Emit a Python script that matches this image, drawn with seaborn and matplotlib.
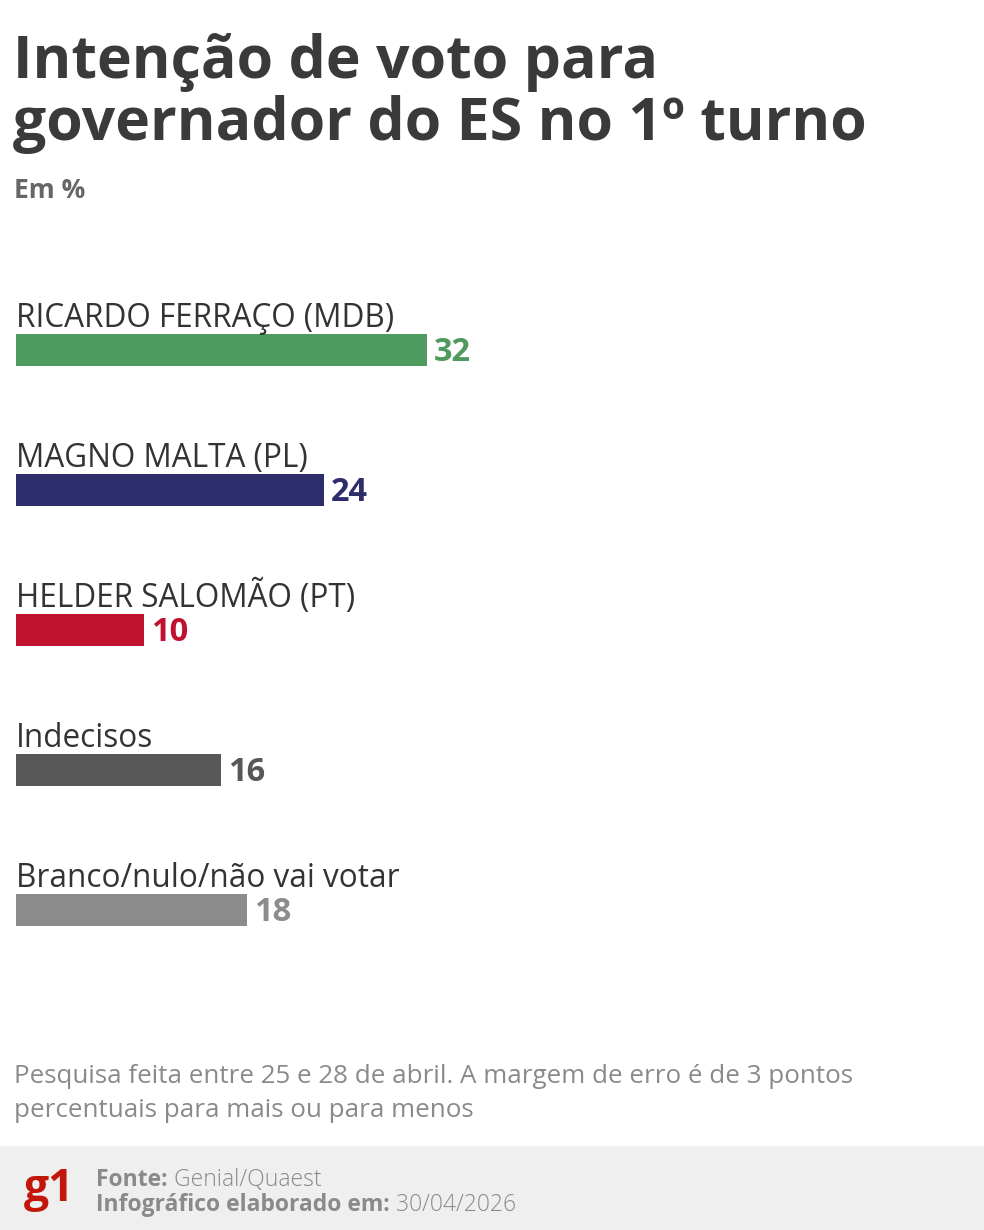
import matplotlib
matplotlib.use("Agg")
import matplotlib.pyplot as plt
import seaborn as sns
import pandas as pd
from matplotlib.patches import Rectangle

# data
candidates = ["RICARDO FERRAÇO (MDB)", "MAGNO MALTA (PL)", "HELDER SALOMÃO (PT)",
              "Indecisos", "Branco/nulo/não vai votar"]
votes = [32, 24, 10, 16, 18]
colors = ["#4f9a5f", "#2d2d6b", "#c0122f", "#575757", "#8c8c8c"]

title = "Intenção de voto para\ngovernador do ES no 1º turno"
subtitle = "Em %"
note = "Pesquisa feita entre 25 e 28 de abril. A margem de erro é de 3 pontos\npercentuais para mais ou para menos"

sns.set_theme(style="white")
plt.rcParams["font.family"] = ["Open Sans", "DejaVu Sans"]

W, H = 984, 1230
fig = plt.figure(figsize=(W / 100, H / 100), dpi=100)
fig.patch.set_facecolor("white")

def fx(px):
    return px / W

def fy(py):
    return 1 - py / H

# bars axis: x 0..32 spans px 16..427, categories 140 px apart
ax = fig.add_axes([fx(16), fy(980), 411 / W, 700 / H])
df = pd.DataFrame({"nome": candidates, "voto": votes})
sns.barplot(data=df, x="voto", y="nome", hue="nome", palette=colors,
            orient="h", width=32 / 140, legend=False, ax=ax, saturation=1,
            linewidth=0)
ax.set_xlim(0, 32)
ax.set_ylim(4.5, -0.5)
ax.axis("off")

for i, (name, v, c) in enumerate(zip(candidates, votes, colors)):
    ax.text(0, i - 0.114 - 0.052, name, ha="left", va="baseline",
            fontsize=22.7, color="#333333")
    ax.text(v + 0.5, i + 0.08, str(v), ha="left", va="baseline",
            fontsize=23.5, fontweight="bold", color=c)

title_lines = title.split("\n")
fig.text(fx(13), fy(78), title_lines[0], fontsize=42.5, fontweight="bold",
         color="#3a3a3a", va="baseline", ha="left")
fig.text(fx(13), fy(140), title_lines[1], fontsize=42.5, fontweight="bold",
         color="#3a3a3a", va="baseline", ha="left")
fig.text(fx(14), fy(198), subtitle, fontsize=19, fontweight="bold",
         color="#666666", va="baseline", ha="left")

note_lines = note.split("\n")
fig.text(fx(14), fy(1083), note_lines[0], fontsize=18.7, color="#8a8a8a",
         va="baseline", ha="left")
fig.text(fx(14), fy(1117), note_lines[1], fontsize=18.7, color="#8a8a8a",
         va="baseline", ha="left")

# footer band
fig.patches.append(Rectangle((0, 0), 1, 84 / H, transform=fig.transFigure,
                             facecolor="#efefef", edgecolor="none", zorder=0))
fig.text(fx(24), fy(1201), "g1", fontsize=32, fontweight="bold", color="#c4170c",
         va="baseline", ha="left")

renderer = fig.canvas.get_renderer()
for y, bold_part, light_part in [(1186, "Fonte:", " Genial/Quaest"),
                                 (1211, "Infográfico elaborado em:", " 30/04/2026")]:
    t = fig.text(fx(96), fy(y), bold_part, fontsize=16.5, fontweight="bold",
                 color="#8a8a8a", va="baseline", ha="left")
    bb = t.get_window_extent(renderer)
    fig.text(bb.x1 / W, fy(y), light_part, fontsize=16.5, fontweight="light",
             color="#8a8a8a", va="baseline", ha="left")

fig.savefig("out.png", dpi=100)
